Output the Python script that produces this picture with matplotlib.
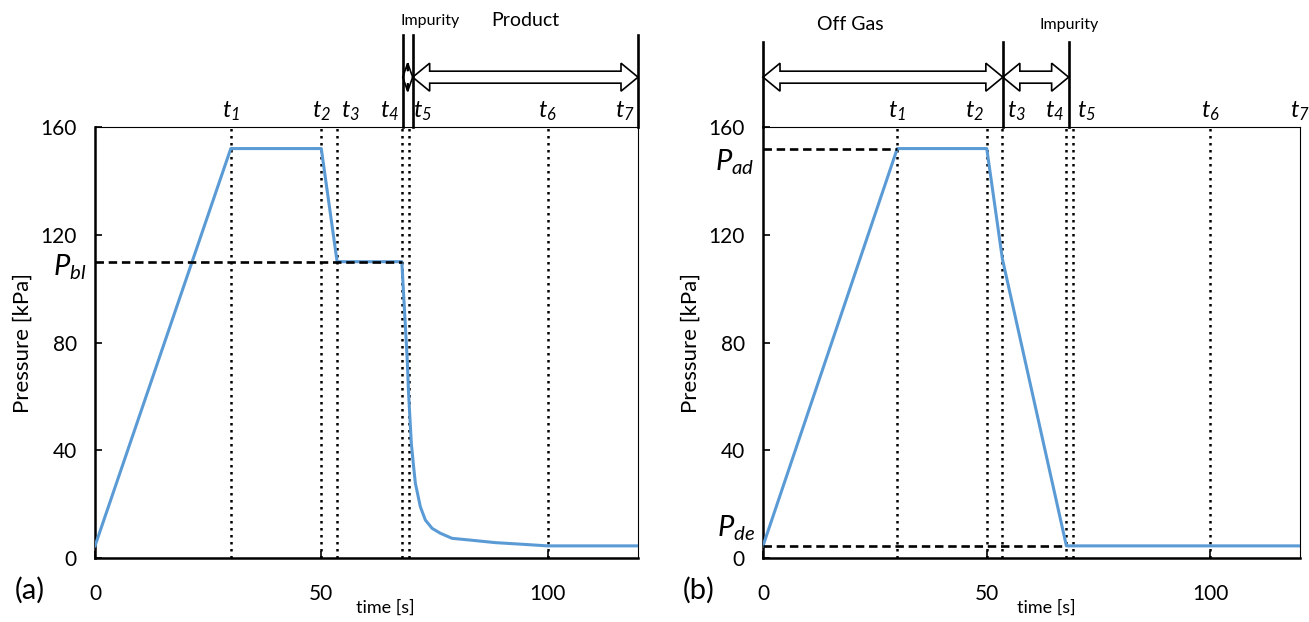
import matplotlib.pyplot as plt
from matplotlib.patches import Polygon
from matplotlib.transforms import IdentityTransform

plt.rcParams["font.family"] = ["Lato", "DejaVu Sans"]
plt.rcParams["mathtext.fontset"] = "custom"
plt.rcParams["mathtext.it"] = "Lato:italic"
plt.rcParams["mathtext.rm"] = "Lato:italic"

# ---- data ----
time_a = [0, 30, 50, 53.5, 67.8, 69.0, 69.3, 69.7, 69.9, 70.4, 70.8, 71.9,
          73.0, 74.5, 76.3, 78.9, 82.6, 88.5, 94.4, 100, 120]
pres_a = [4.5, 152, 152, 110, 110, 73.5, 61, 48.7, 42.6, 34, 27.7, 19,
          14.1, 11, 9.2, 7.3, 6.7, 5.7, 5.1, 4.5, 4.5]
time_b = [0, 30, 50, 53.5, 67.8, 120]
pres_b = [4.5, 152, 152, 111, 4.5, 4.5]

step_times = [30, 50, 53.5, 67.8, 69.3, 100, 120]
step_labels = [r"$t_{%d}$" % i for i in range(1, 8)]
# horizontal alignment of the step labels in each panel
step_ha_a = ["center", "center", "left", "right", "left", "center", "right"]
step_ha_b = ["center", "right", "left", "right", "left", "center", "center"]

# reference pressure lines: (label, level, end time)
ref_a = [(r"$P_{bl}$", 110, 67.8)]
ref_b = [(r"$P_{ad}$", 152, 30), (r"$P_{de}$", 4.5, 67.8)]
ref_label_y_a = [108]
ref_label_y_b = [147, 11]

# product zones above each panel
bars_a = [68.0, 70.2, 120]
bars_b = [0, 53.6, 68.3]
zones_a = ["Impurity", "Product"]
zones_b = ["Off Gas", "Impurity"]
zone_text_x_a = [74, 95]
zone_text_x_b = [19.4, 68.5]
zone_text_size_a = [11.5, 14]
zone_text_size_b = [14, 11.5]

BLUE = "#5B9BD5"


def double_arrow(ax, x0, x1, y, head=17, half_head=14, half_shaft=6):
    """Hollow block arrow with heads on both ends, sized in pixels."""
    px0, py = ax.transData.transform((x0, y))
    px1 = ax.transData.transform((x1, y))[0]
    L = min(head, (px1 - px0) / 2)
    verts = [
        (px0, py), (px0 + L, py + half_head), (px0 + L, py + half_shaft),
        (px1 - L, py + half_shaft), (px1 - L, py + half_head), (px1, py),
        (px1 - L, py - half_head), (px1 - L, py - half_shaft),
        (px0 + L, py - half_shaft), (px0 + L, py - half_head),
    ]
    ax.add_patch(Polygon(verts, closed=True, transform=IdentityTransform(),
                         facecolor="white", edgecolor="black", lw=1.2,
                         clip_on=False, zorder=5))


def setup(ax, panel, xlabel_x):
    ax.set_xlim(0, 120)
    ax.set_ylim(0, 160)
    ax.set_xticks([0, 50, 100])
    ax.set_yticks([0, 40, 80, 120, 160])
    ax.tick_params(direction="in", length=5, width=1.2, labelsize=15, pad=13)
    ax.tick_params(axis="x", pad=19)
    for side in ("left", "bottom"):
        ax.spines[side].set_linewidth(1.8)
    for side in ("top", "right"):
        ax.spines[side].set_linewidth(0.8)
    ax.set_ylabel("Pressure [kPa]", fontsize=16, labelpad=6)
    ax.set_xlabel("time [s]", fontsize=13)
    ax.xaxis.set_label_coords(xlabel_x, -0.096)
    ax.text(-0.12, -0.075, panel, transform=ax.transAxes, fontsize=21,
            ha="center", va="center")


def draw_panel(ax, t, p, refs, ref_y, has, bars, bar_top, zones, zone_x,
               zone_size, zone_y):
    ax.plot(t, p, color=BLUE, lw=2.2, zorder=3)
    for x in step_times[:-1]:
        ax.axvline(x, color="black", lw=1.8, ls=(0, (1, 1.8)), zorder=2)
    for (lab, lev, tend), ly in zip(refs, ref_y):
        ax.plot([0, tend], [lev, lev], color="black", lw=1.9,
                ls=(0, (3.2, 1.8)), zorder=4)
        ax.annotate(lab, (0, ly), xytext=(-6, 0), textcoords="offset points",
                    ha="right", va="center", fontsize=21)
    for x, lab, ha in zip(step_times, step_labels, has):
        dx = {"center": 0, "left": 3, "right": -2}[ha]
        ax.annotate(lab, (x, 160), xytext=(dx, 3), textcoords="offset points",
                    ha=ha, va="bottom", fontsize=17, annotation_clip=False)
    for x in bars:
        ax.plot([x, x], [160, bar_top], color="black", lw=1.9,
                clip_on=False, zorder=6)
    for x0, x1 in zip(bars[:-1], bars[1:]):
        double_arrow(ax, x0, x1, 178.5)
    for name, x, fs in zip(zones, zone_x, zone_size):
        ax.text(x, zone_y, name, ha="center", va="center", fontsize=fs)


fig = plt.figure(figsize=(13.09, 6.22), dpi=100)
ax_a = fig.add_axes([0.0726, 0.1029, 0.4148, 0.6929])
ax_b = fig.add_axes([0.5829, 0.1029, 0.4102, 0.6929])
setup(ax_a, "(a)", 0.534)
setup(ax_b, "(b)", 0.527)

draw_panel(ax_a, time_a, pres_a, ref_a, ref_label_y_a, step_ha_a, bars_a,
           194, zones_a, zone_text_x_a, zone_text_size_a, 199.5)
draw_panel(ax_b, time_b, pres_b, ref_b, ref_label_y_b, step_ha_b, bars_b,
           191.5, zones_b, zone_text_x_b, zone_text_size_b, 198)

fig.savefig("out.png", dpi=100)
